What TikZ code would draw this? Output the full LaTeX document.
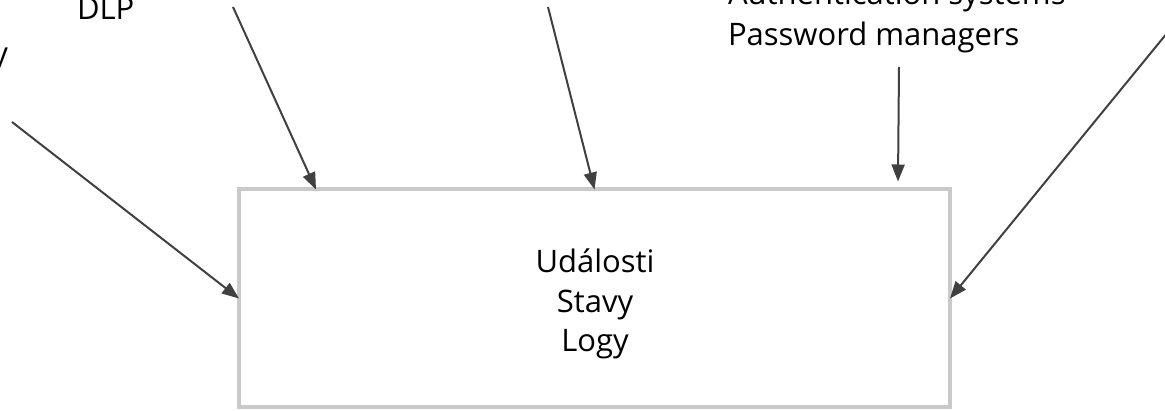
\documentclass[tikz,border=0pt]{standalone}
\usepackage{fontspec}
\setmainfont{Open Sans}
\usetikzlibrary{arrows.meta,calc}
\tikzset{
  lbl/.style={inner sep=0pt, outer sep=0pt, font=\fontsize{31}{41}\selectfont, text=black},
  mainbox/.style={draw=boxgray, line width=4pt, fill=white, minimum width=711pt, minimum height=218pt, inner sep=0pt, outer sep=0pt},
  boxtext/.style={inner sep=0pt, outer sep=0pt, align=center, font=\fontsize{31}{39.5}\selectfont, text=black},
  conn/.style={draw=arrgray, line width=2pt, -{Triangle[length=17pt,width=13pt]}}
}
\definecolor{boxgray}{HTML}{C8C9CA}
\definecolor{arrgray}{HTML}{404040}
\begin{document}
\begin{tikzpicture}[x=1pt,y=-1pt]
\useasboundingbox (0,0) rectangle (1165,411);
\node[mainbox] (box) at (594.5,298.5) {};
\node[boxtext, anchor=base] (evt) at (595,352) {Události\\Stavy\\Logy};
\node[lbl, anchor=base west] (dlp) at (77,20) {DLP};
\node[lbl, anchor=base east] (yl) at (8,65) {y};
\node[lbl, anchor=base west, align=left] (auth) at (728,46) {Authentication systems\\Password managers};
\coordinate (s1) at (12,122);
\coordinate (s2) at (233,7);
\coordinate (s3) at (548,7);
\coordinate (s4) at (899,67);
\coordinate (s5) at (1190,5);
\draw[conn] (s1) -- (box.west);
\draw[conn] (s2) -- ([xshift=77pt]box.north west);
\draw[conn] (s3) -- (box.north);
\draw[conn] (s4) -- ([xshift=-52pt,yshift=8pt]box.north east);
\draw[conn] (s5) -- (box.east);
\end{tikzpicture}
\end{document}
